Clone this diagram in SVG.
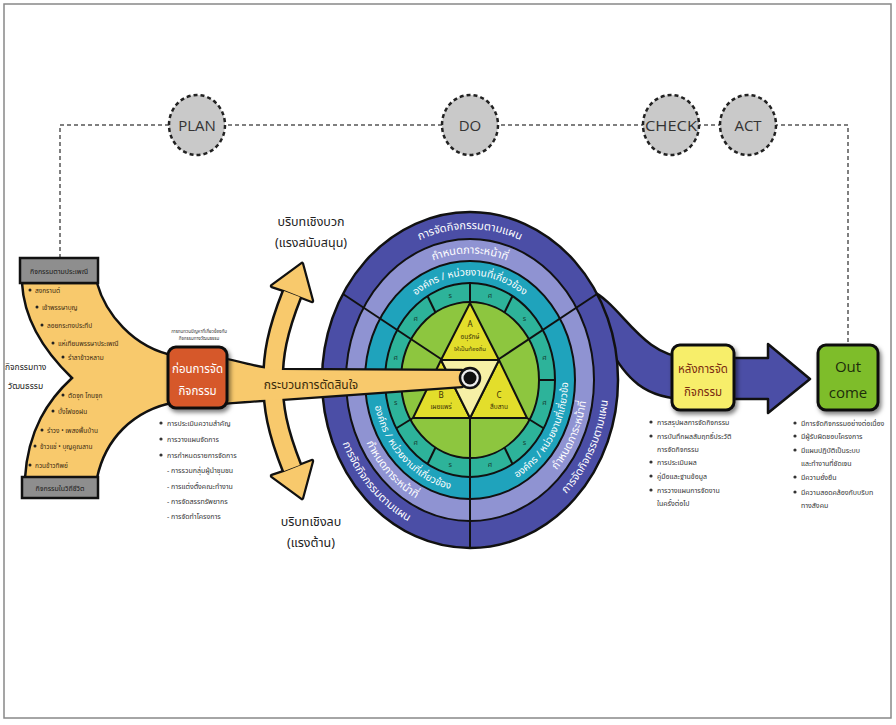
<svg xmlns="http://www.w3.org/2000/svg" width="896" height="725" viewBox="0 0 896 725">
<style>
.th{font-family:'Noto Sans Thai','Noto Sans','DejaVu Sans',sans-serif}
.pd{font-family:'Open Sans','Noto Sans',sans-serif;font-size:15px;fill:#333;text-anchor:middle}
.dash{fill:none;stroke:#555;stroke-width:1.5;stroke-dasharray:4 3}
.pc{fill:#C9C9C9;stroke:#222;stroke-width:2.5;stroke-dasharray:4 3}
.bl{font-size:7px;fill:#333}
.fb{font-size:6.5px;fill:#3b2a12}
.rt{font-size:11px;fill:#fff;text-anchor:middle}
.rts{font-size:10px;fill:#fff;text-anchor:middle}
.seg{font-size:7px;fill:#163d33;text-anchor:middle}
.ln{stroke:#111;stroke-width:2;fill:none}
.ctx{font-size:12.5px;fill:#222;text-anchor:middle}
</style>
<defs>
<filter id="sh" x="-20%" y="-20%" width="150%" height="150%"><feDropShadow dx="2" dy="3" stdDeviation="2" flood-color="#000" flood-opacity="0.5"/></filter>
<path id="tD" d="M337,380 A133,151 0 0 1 603,380"/>
<path id="tL" d="M358.7,380 A111.3,126.5 0 0 1 581.3,380"/>
<path id="tT" d="M378,380 A92,104.5 0 0 1 562,380"/>
<path id="lD" d="M331,380 A139,158 0 0 0 470,538"/>
<path id="lL" d="M352.5,380 A117.5,133.5 0 0 0 470,513.5"/>
<path id="lT" d="M372,380 A98,111.5 0 0 0 470,491.5"/>
<path id="rD" d="M470,538 A139,158 0 0 0 609,380"/>
<path id="rL" d="M470,513.5 A117.5,133.5 0 0 0 587.5,380"/>
<path id="rT" d="M470,491.5 A98,111.5 0 0 0 568,380"/>
</defs>
<rect x="4" y="4" width="887" height="714" fill="#fff" stroke="#888" stroke-width="1.5"/>

<g id="connectors">
<polyline class="dash" points="60,258 60,125 848,125 848,345"/>
</g>

<g id="plan"><ellipse class="pc" cx="197" cy="125" rx="28" ry="30"/><text class="pd" x="197" y="131">PLAN</text></g>
<g id="do"><ellipse class="pc" cx="470" cy="125" rx="28" ry="30"/><text class="pd" x="470" y="131">DO</text></g>
<g id="check"><ellipse class="pc" cx="671" cy="125" rx="28" ry="30"/><text class="pd" x="671" y="131" textLength="52" lengthAdjust="spacingAndGlyphs">CHECK</text></g>
<g id="act"><ellipse class="pc" cx="748" cy="125" rx="28" ry="30"/><text class="pd" x="748" y="131">ACT</text></g>

<g id="funnel">
<path d="M22,283 L97,283 C105,312 132,348 176,356 L176,402 C132,410 105,440 97,478 L25,478 C28,430 48,400 72,378 C45,352 24,320 22,283 Z" fill="#F8C96C" stroke="#111" stroke-width="2.5"/>
<rect x="20" y="258" width="78" height="25" fill="#8E8E8E" stroke="#111" stroke-width="2.5"/>
<text class="th" x="59" y="273.5" font-size="7" fill="#1a1a1a" text-anchor="middle">กิจกรรมตามประเพณี</text>
<rect x="22" y="477" width="76" height="21" fill="#8E8E8E" stroke="#111" stroke-width="2.5"/>
<text class="th" x="60" y="490.5" font-size="7" fill="#1a1a1a" text-anchor="middle">กิจกรรมในวิถีชีวิต</text>
<g fill="#222">
<circle cx="30" cy="290" r="1.5"/><circle cx="37" cy="307" r="1.5"/><circle cx="42" cy="325" r="1.5"/><circle cx="53" cy="343" r="1.5"/><circle cx="63" cy="357" r="1.5"/>
<circle cx="63" cy="395" r="1.5"/><circle cx="53" cy="411" r="1.5"/><circle cx="42" cy="430" r="1.5"/><circle cx="35" cy="446" r="1.5"/><circle cx="30" cy="465" r="1.5"/>
</g>
<g class="th fb">
<text x="35" y="292.5">สงกรานต์</text>
<text x="42" y="309.5">เข้าพรรษาบุญ</text>
<text x="47" y="327.5">ลอยกระทงประทีป</text>
<text x="58" y="345.5">แห่เทียนพรรษาประเพณี</text>
<text x="68" y="359.5">รำลาข้าวหลาม</text>
<text x="68" y="397.5">ตัดจุก โกนจุก</text>
<text x="58" y="413.5">บั้งไฟขอฝน</text>
<text x="47" y="432.5">รำวง • เพลงพื้นบ้าน</text>
<text x="40" y="448.5">ข้าวแช่ • บุญคูณลาน</text>
<text x="35" y="467.5">กวนข้าวทิพย์</text>
</g>
<text class="th" x="5" y="370" font-size="8.5" fill="#222">กิจกรรมทาง</text>
<text class="th" x="8" y="389" font-size="8.5" fill="#222">วัฒนธรรม</text>
</g>

<g id="outband">
<path d="M590,290 C622,304 640,356 688,358 L768,358 L768,344 L810,379 L768,413 L768,399 L688,399 C645,399 625,378 608,345 Z" fill="#4B4EA6" stroke="#111" stroke-width="2.5" stroke-linejoin="round"/>
</g>

<g id="wheel">
<ellipse cx="470" cy="380" rx="148" ry="168" fill="#4B4EA6" stroke="#111" stroke-width="2.5"/>
<ellipse cx="470" cy="380" rx="124" ry="141" fill="#8F93D2" stroke="#111" stroke-width="2"/>
<ellipse cx="470" cy="380" rx="105" ry="119" fill="#1FA3BC" stroke="#111" stroke-width="2"/>
<ellipse cx="470" cy="380" rx="85" ry="97" fill="#2DB39A" stroke="#111" stroke-width="2"/>
<ellipse cx="470" cy="380" rx="69" ry="78" fill="#8DC63F" stroke="#111" stroke-width="2"/>
<g class="ln">
<line x1="441" y1="359" x2="343" y2="294"/>
<line x1="499" y1="359" x2="597" y2="294"/>
<line x1="470" y1="418" x2="470" y2="548"/>
<line x1="470" y1="303" x2="470" y2="283"/>
<line x1="413" y1="418" x2="396" y2="428.5"/>
<line x1="527" y1="418" x2="544" y2="428.5"/>
<line x1="539" y1="380" x2="555" y2="380"/>
<line x1="504.5" y1="312.5" x2="512.5" y2="296"/>
<line x1="435.5" y1="312.5" x2="427.5" y2="296"/>
<line x1="401" y1="380" x2="385" y2="380"/>
<line x1="435.5" y1="447.5" x2="427.5" y2="464"/>
<line x1="504.5" y1="447.5" x2="512.5" y2="464"/>
</g>
<g class="th seg">
<text x="544.4" y="360">ศ</text><text x="524.4" y="320.5">ร</text><text x="489.9" y="298">ศ</text><text x="450.1" y="298">ร</text>
<text x="415.6" y="320.5">ศ</text><text x="395.6" y="360">ศ</text><text x="395.6" y="405">ร</text><text x="415.6" y="444.5">ศ</text>
<text x="450.1" y="467">ร</text><text x="489.9" y="467">ศ</text><text x="524.4" y="444.5">ร</text><text x="544.4" y="405">ศ</text>
</g>
<g stroke="#111" stroke-width="2" stroke-linejoin="round">
<polygon points="470,303 441,360 499,360" fill="#E3DE2B"/>
<polygon points="441,360 413,418 470,418" fill="#E3DE2B"/>
<polygon points="499,360 470,418 527,418" fill="#E3DE2B"/>
<polygon points="441,360 499,360 470,418" fill="#F6F0A6"/>
</g>
<g class="th" fill="#3a3208" text-anchor="middle">
<text x="470" y="327" font-size="8">A</text>
<text x="470" y="339" font-size="6.5">อนุรักษ์</text>
<text x="470" y="351" font-size="6">ให้เป็นท้องถิ่น</text>
<text x="441" y="398" font-size="8">B</text>
<text x="441" y="409" font-size="6.5">เผยแพร่</text>
<text x="499" y="398" font-size="8">C</text>
<text x="499" y="409" font-size="6.5">สืบสาน</text>
</g>
<g class="th">
<text class="rt"><textPath href="#tD" startOffset="50%">การจัดกิจกรรมตามแผน</textPath></text>
<text class="rt"><textPath href="#tL" startOffset="50%">กำหนดภาระหน้าที่</textPath></text>
<text class="rts"><textPath href="#tT" startOffset="50%">องค์กร / หน่วยงานที่เกี่ยวข้อง</textPath></text>
<text class="rt"><textPath href="#lD" startOffset="50%">การจัดกิจกรรมตามแผน</textPath></text>
<text class="rt"><textPath href="#lL" startOffset="52%">กำหนดภาระหน้าที่</textPath></text>
<text class="rts"><textPath href="#lT" startOffset="52%">องค์กร / หน่วยงานที่เกี่ยวข้อง</textPath></text>
<text class="rt"><textPath href="#rD" startOffset="69%">การจัดกิจกรรมตามแผน</textPath></text>
<text class="rt"><textPath href="#rL" startOffset="70%">กำหนดภาระหน้าที่</textPath></text>
<text class="rts"><textPath href="#rT" startOffset="66%">องค์กร / หน่วยงานที่เกี่ยวข้อง</textPath></text>
</g>
</g>

<g id="decision">
<g fill="#111" stroke="#111" stroke-linejoin="round">
<path d="M292,294 C277,332 273,355 273,381 C273,407 277,430 292,468" fill="none" stroke-width="22"/>
<path d="M200,356 C240,360 252,369 280,370 L462,371 L462,386 L280,399 C252,400 240,402 200,404 Z" stroke-width="4.5"/>
<polygon points="302,264 312,301 299,296 284,290 272,286" stroke-width="4.5"/>
<polygon points="302,498 312,461 299,466 284,472 272,476" stroke-width="4.5"/>
</g>
<g fill="#F8C96C" stroke="#F8C96C" stroke-linejoin="round">
<path d="M292,294 C277,332 273,355 273,381 C273,407 277,430 292,468" fill="none" stroke-width="17"/>
<path d="M200,356 C240,360 252,369 280,370 L462,371 L462,386 L280,399 C252,400 240,402 200,404 Z" stroke-width="0"/>
<polygon points="302,264 312,301 299,296 284,290 272,286" stroke-width="0"/>
<polygon points="302,498 312,461 299,466 284,472 272,476" stroke-width="0"/>
</g>
<text class="th" x="311" y="389" font-size="12" fill="#3a2a0a" text-anchor="middle">กระบวนการตัดสินใจ</text>
<circle cx="470" cy="378" r="10" fill="#eee" stroke="#111" stroke-width="2.5"/>
<circle cx="470" cy="378" r="6.5" fill="#111"/>
<g class="th ctx">
<text x="311" y="226">บริบทเชิงบวก</text>
<text x="311" y="247">(แรงสนับสนุน)</text>
<text x="311" y="526">บริบทเชิงลบ</text>
<text x="311" y="547">(แรงต้าน)</text>
</g>
</g>

<g id="before">
<rect x="168" y="347" width="59" height="61" rx="8" fill="#D6582A" stroke="#111" stroke-width="3" filter="url(#sh)"/>
<text class="th" x="197.5" y="373" font-size="11.5" fill="#fff" text-anchor="middle">ก่อนการจัด</text>
<text class="th" x="197.5" y="395" font-size="11.5" fill="#fff" text-anchor="middle">กิจกรรม</text>
<text class="th" x="199" y="333" font-size="4.5" fill="#333" text-anchor="middle">การทบทวนปัญหาที่เกี่ยวข้องกับ</text>
<text class="th" x="199" y="340" font-size="4.5" fill="#333" text-anchor="middle">กิจกรรมทางวัฒนธรรม</text>
<g fill="#333"><circle cx="161" cy="423" r="1.6"/><circle cx="161" cy="439" r="1.6"/><circle cx="161" cy="455" r="1.6"/></g>
<g class="th bl">
<text x="167" y="425.5">การประเมินความสำคัญ</text>
<text x="167" y="441.5">การวางแผนจัดการ</text>
<text x="167" y="457.5">การกำหนดรายการจัดการ</text>
<text x="167" y="473">- การรวมกลุ่มผู้นำชุมชน</text>
<text x="167" y="488.5">- การแต่งตั้งคณะทำงาน</text>
<text x="167" y="504">- การจัดสรรทรัพยากร</text>
<text x="167" y="519">- การจัดทำโครงการ</text>
</g>
</g>

<g id="after">
<rect x="672" y="345" width="62" height="65" rx="8" fill="#F7EE6A" stroke="#111" stroke-width="3" filter="url(#sh)"/>
<text class="th" x="703" y="373" font-size="11.5" fill="#7A2A10" text-anchor="middle">หลังการจัด</text>
<text class="th" x="703" y="396" font-size="11.5" fill="#7A2A10" text-anchor="middle">กิจกรรม</text>
<g fill="#333"><circle cx="651" cy="422" r="1.6"/><circle cx="651" cy="436" r="1.6"/><circle cx="651" cy="462" r="1.6"/><circle cx="651" cy="476" r="1.6"/><circle cx="651" cy="490" r="1.6"/></g>
<g class="th bl">
<text x="657" y="424.5">การสรุปผลการจัดกิจกรรม</text>
<text x="657" y="438.5">การบันทึกผลสัมฤทธิ์ประวัติ</text>
<text x="657" y="451.5">การจัดกิจกรรม</text>
<text x="657" y="464.5">การประเมินผล</text>
<text x="657" y="478.5">คู่มือและฐานข้อมูล</text>
<text x="657" y="492.5">การวางแผนการจัดงาน</text>
<text x="657" y="505.5">ในครั้งต่อไป</text>
</g>
</g>

<g id="outcome">
<rect x="818" y="345" width="60" height="65" rx="8" fill="#7EBD2C" stroke="#111" stroke-width="3" filter="url(#sh)"/>
<text x="848" y="372" font-family="'Open Sans','Noto Sans',sans-serif" font-size="15" fill="#1d2d0c" text-anchor="middle">Out</text>
<text x="848" y="398" font-family="'Open Sans','Noto Sans',sans-serif" font-size="15" fill="#1d2d0c" text-anchor="middle">come</text>
<g fill="#333"><circle cx="795" cy="423" r="1.6"/><circle cx="795" cy="436" r="1.6"/><circle cx="795" cy="450" r="1.6"/><circle cx="795" cy="477" r="1.6"/><circle cx="795" cy="492" r="1.6"/></g>
<g class="th bl">
<text x="801" y="425.5">มีการจัดกิจกรรมอย่างต่อเนื่อง</text>
<text x="801" y="438.5">มีผู้รับผิดชอบโครงการ</text>
<text x="801" y="452.5">มีแผนปฏิบัติเป็นระบบ</text>
<text x="801" y="465.5">และทำงานที่ชัดเจน</text>
<text x="801" y="479.5">มีความยั่งยืน</text>
<text x="801" y="494.5">มีความสอดคล้องกับบริบท</text>
<text x="801" y="507.5">ทางสังคม</text>
</g>
</g>
</svg>
